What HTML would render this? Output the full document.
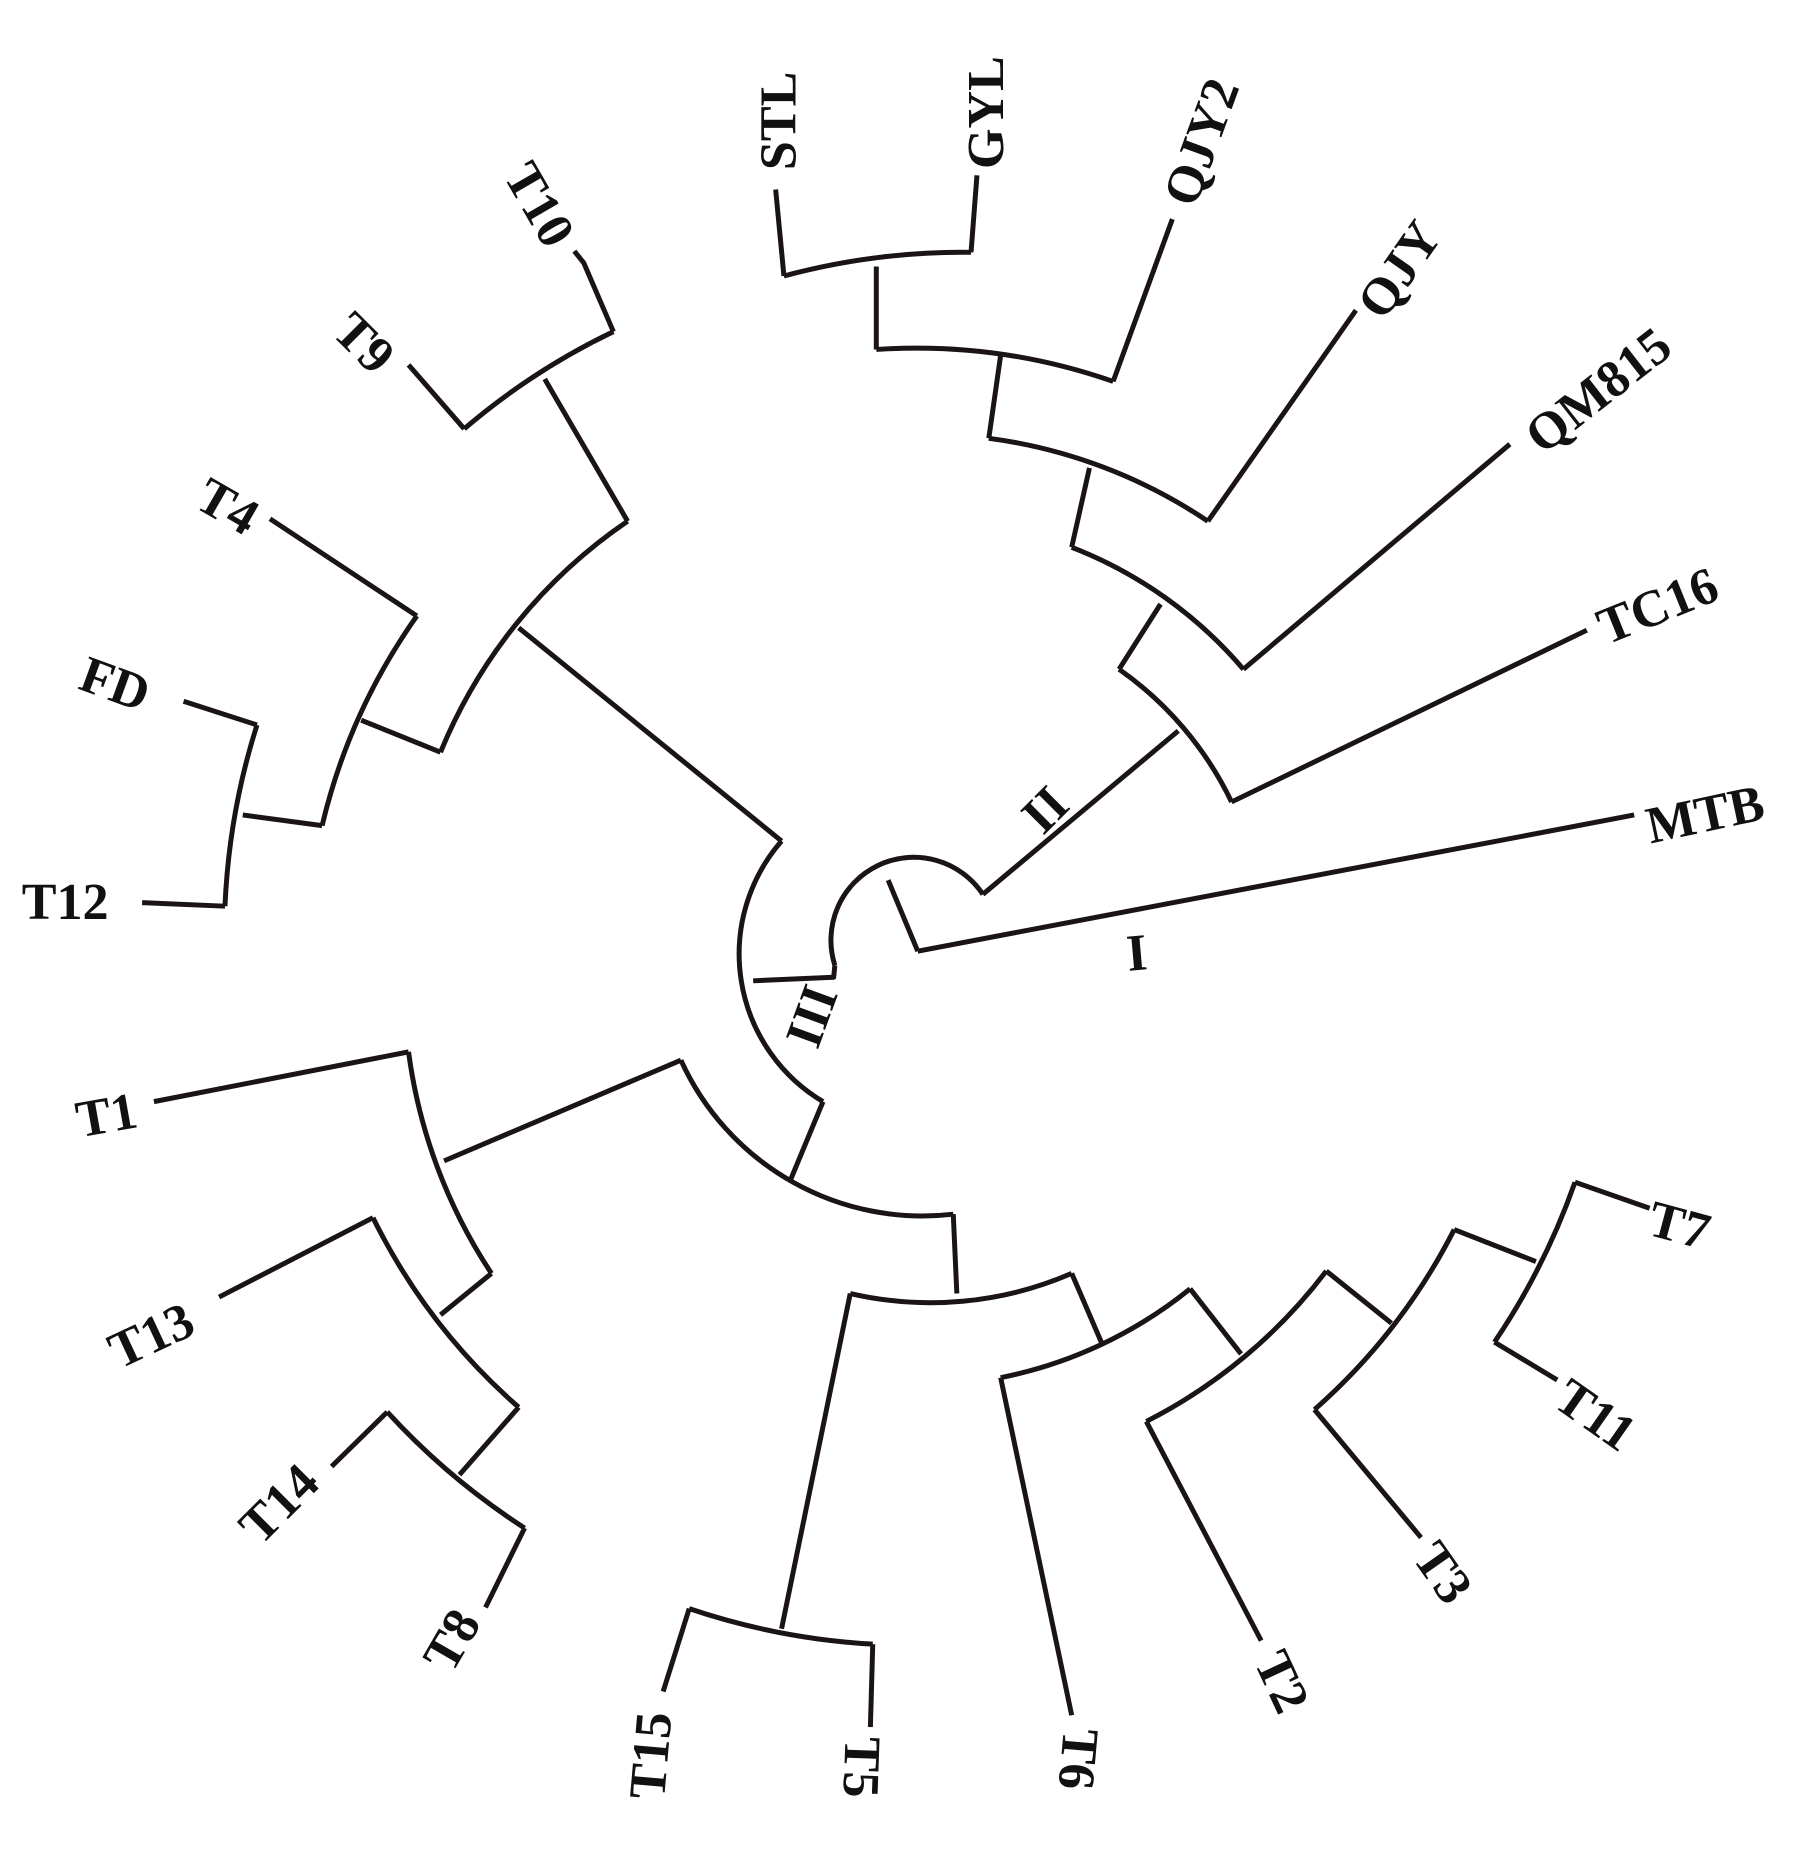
<!DOCTYPE html>
<html><head><meta charset="utf-8"><style>html,body{margin:0;padding:0;background:#fff}svg{display:block}</style></head>
<body>
<svg width="1813" height="1855" viewBox="0 0 1531 1566" preserveAspectRatio="none" xmlns="http://www.w3.org/2000/svg">
<g fill="none" stroke="#1a1414" stroke-width="4.2" stroke-linejoin="round">
<path d="M775,803 L1380,688"/>
<path d="M775,803 L750,743"/>
<path d="M705,815 A70,70 0 0 1 830,755"/>
<path d="M705,815 L704,825 L636,828"/>
<path d="M830,755 L995,617"/>
<path d="M945,565 A290,290 0 0 1 1040,677"/>
<path d="M1040,677 L1340,532"/>
<path d="M945,565 L980,510"/>
<path d="M905,462 A362,362 0 0 1 1050,565"/>
<path d="M1050,565 L1275,375"/>
<path d="M905,462 L920,395"/>
<path d="M835,370 A434,434 0 0 1 1020,440"/>
<path d="M1020,440 L1145,262"/>
<path d="M835,370 L845,300"/>
<path d="M740,295 A506,506 0 0 1 940,322"/>
<path d="M940,322 L990,185"/>
<path d="M740,295 L740,225"/>
<path d="M662,233 A583,583 0 0 1 820,213"/>
<path d="M662,233 L655,160"/>
<path d="M820,213 L825,148"/>
<path d="M695,930 A145,145 0 0 1 660,710"/>
<path d="M660,710 L438,530"/>
<path d="M372,635 A435,435 0 0 1 530,440"/>
<path d="M530,440 L460,320"/>
<path d="M392,362 A581,581 0 0 1 518,280"/>
<path d="M392,362 L345,308"/>
<path d="M518,280 L493,222 L485,212"/>
<path d="M372,635 L305,608"/>
<path d="M272,697 A510,510 0 0 1 352,520"/>
<path d="M352,520 L228,438"/>
<path d="M272,697 L205,688"/>
<path d="M190,765 A588,588 0 0 1 217,612"/>
<path d="M190,765 L120,762"/>
<path d="M217,612 L155,592"/>
<path d="M695,930 L668,995"/>
<path d="M805,1025 A224,224 0 0 1 575,895"/>
<path d="M575,895 L375,980"/>
<path d="M415,1075 A445,445 0 0 1 345,888"/>
<path d="M345,888 L130,930"/>
<path d="M415,1075 L372,1110"/>
<path d="M438,1188 A514,514 0 0 1 315,1028"/>
<path d="M315,1028 L185,1095"/>
<path d="M438,1188 L388,1245"/>
<path d="M443,1290 A594,594 0 0 1 327,1192"/>
<path d="M327,1192 L280,1238"/>
<path d="M443,1290 L410,1357"/>
<path d="M805,1025 L808,1092"/>
<path d="M905,1075 A300,300 0 0 1 718,1092"/>
<path d="M718,1092 L660,1375"/>
<path d="M737,1388 A590,590 0 0 1 582,1358"/>
<path d="M582,1358 L560,1428"/>
<path d="M737,1388 L735,1458"/>
<path d="M905,1075 L930,1133"/>
<path d="M1005,1088 A368,368 0 0 1 845,1163"/>
<path d="M845,1163 L905,1448"/>
<path d="M1005,1088 L1048,1143"/>
<path d="M1120,1073 A442,442 0 0 1 968,1200"/>
<path d="M968,1200 L1065,1385"/>
<path d="M1120,1073 L1175,1117"/>
<path d="M1228,1038 A513,513 0 0 1 1110,1190"/>
<path d="M1110,1190 L1200,1298"/>
<path d="M1228,1038 L1297,1065"/>
<path d="M1330,998 A590,590 0 0 1 1262,1133"/>
<path d="M1330,998 L1393,1020"/>
<path d="M1262,1133 L1315,1165"/>
</g>
<g font-family="'Liberation Serif', serif" font-size="44" font-weight="bold" fill="#111" text-anchor="middle" dominant-baseline="central">
<text transform="translate(658,102) rotate(-90)">STL</text>
<text transform="translate(833,95) rotate(-90)">GYL</text>
<text transform="translate(1015,120) rotate(-70)">QJY2</text>
<text transform="translate(1182,228) rotate(-55)">QJY</text>
<text transform="translate(1350,330) rotate(-38)">QM815</text>
<text transform="translate(1400,512) rotate(-22)">TC16</text>
<text transform="translate(1440,688) rotate(-12)">MTB</text>
<text transform="translate(1418,1035) rotate(15)">T7</text>
<text transform="translate(1347,1195) rotate(35)">T11</text>
<text transform="translate(1218,1328) rotate(55)">T3</text>
<text transform="translate(1082,1420) rotate(65)">T2</text>
<text transform="translate(910,1485) rotate(95)">T6</text>
<text transform="translate(727,1492) rotate(92)">T5</text>
<text transform="translate(550,1482) rotate(-85)">T15</text>
<text transform="translate(382,1385) rotate(-60)">T8</text>
<text transform="translate(236,1270) rotate(-45)">T14</text>
<text transform="translate(128,1128) rotate(-25)">T13</text>
<text transform="translate(90,942) rotate(-10)">T1</text>
<text transform="translate(55,762)">T12</text>
<text transform="translate(97,578) rotate(20)">FD</text>
<text transform="translate(192,428) rotate(30)">T4</text>
<text transform="translate(307,290) rotate(45)">T9</text>
<text transform="translate(455,173) rotate(60)">T10</text>
<text transform="translate(960,805) rotate(-5)">I</text>
<text transform="translate(883,684) rotate(-45)">II</text>
<text transform="translate(686,858) rotate(-70)">III</text>
</g>
</svg>
</body></html>
